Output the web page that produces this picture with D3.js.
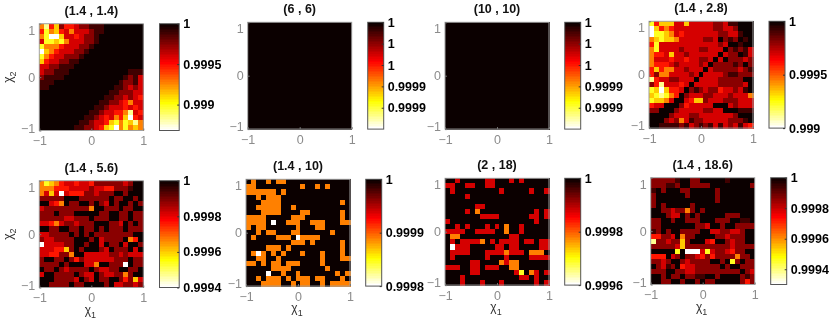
<!DOCTYPE html>
<html><head><meta charset="utf-8">
<script src="https://cdn.jsdelivr.net/npm/d3@7"></script>
<style>
html,body{margin:0;padding:0;background:#fff}
svg{display:block;filter:blur(0.3px)}
text{font-family:"Liberation Sans",Arial,sans-serif}
</style></head><body>
<svg id="c" width="830" height="320"></svg>
<script>
// Heat levels by row, top to bottom: 0 = colour-bar maximum ... 9 = colour-bar minimum
const panel1 = ["584624432211100000000","475643533321100000000","579963343221000000000","377675333221000000000","755543332210000000000","965433322100000000000","754332221000000000000","643322110000000000000","332211100000000000000","322111000000000000111","211110000000000001213","111000000000000012213","110000000000000112323","000000000000001122233","000000000000011223234","000000000000112234533","000000000001123334343","000000000011233445834","000000000112343546943","000000001123346757685","000000011223467957565"];
const panel2 = Array(21).fill("000000000000000000000");
const panel3 = Array(21).fill("000000000000000000000");
const panel4 = ["746663363333322311000","964543333333322332000","977653433333332233100","567665333332230212010","473333333333332300100","573333233322333021213","544363323333330322013","533343343322303022232","544432333323022221202","464553323330322222321","425533332303333211222","843322333033332222200","248333430333332222230","769644302123224332310","678754023332233323335","766530034662333222333","433000243333300032333","220002333332233000111","000023332233333332000","000232531223333322210","001111213212131323134"];
const panel5 = ["576543343342222223200","555444333323344222100","536393444223222002000","222220002222220220020","003450220020230200202","322222222250022202200","222022200000220022022","222223322202220022022","334532232220002230202","002200220220202220222","332222020202222222200","233222200020322220540","933332200200302203002","333446202000230222030","334422500333332232333","200220242333333222022","222202000335002229022","022023222202332200220","300222202330233225200","000222230230220024263","002222022000020332232"];
const panel6 = ["050050550000000000000","550000000005005050000","555555050000000000000","005055500000000000000","000555500000000000050","005555500500000000000","000555500005500000050","555500000555000000050","555509005550055500055","505500000050005500000","005055000550000005000","050000555095555000000","000000000555050000050","000055505000000000050","059505050005000500050","005500500000000500055","550505505550000500000","000005555000000050000","000090050050000000505","005055505055505500050","000555500505500505555"];
const panel7 = ["003000003300030300000","330033003300000000000","030000000003000003003","000030000000000000000","000000000000000000000","000000330000000000000","000030500000000000303","000000033330000003303","300000000000000000300","003030003030500300000","333300333300500300000","055000000000033000000","030333350303333033033","093330000033033000033","033330003333533305550","030000003000300003333","000003300005355000000","333003303330055000000","000003300000003705303","000300000000000330300","000300030003000000303"];
const panel8 = ["222221002200000100000","222112002222000000002","102000220000020000000","200000020000020000000","200000000000020000000","202000002000000000000","002232252020000000000","000233020200000222000","220020022200022200110","220000000223002002222","120200222200332233200","442230522000022322200","822322620003400232200","222223622222222232222","000007099937322342200","444032022342422225220","223200232222002072022","023120433222220200222","222002233222222222023","002022022110020000212","002200200202200000242"];

// Share of the colour-bar range below its maximum, for each heat level
const levelShares = [0,0.09,0.19,0.31,0.4,0.56,0.66,0.77,0.88,1];

const titles = ["(1.4 , 1.4)","(6 , 6)","(10 , 10)","(1.4 , 2.8)","(1.4 , 5.6)","(1.4 , 10)","(2 , 18)","(1.4 , 18.6)"];
const panels = [panel1,panel2,panel3,panel4,panel5,panel6,panel7,panel8];
const colourMins = [0.99868,0.9999,0.9999,0.999,0.9994,0.9998,0.9996,0.99930];
const colourTicks = [[1,0.9995,0.999],[1,0.99998,0.99996,0.99994,0.99992],[1,0.99998,0.99996,0.99994,0.99992],[1,0.9995,0.999],[1,0.9998,0.9996,0.9994],[1,0.9999,0.9998],[1,0.9998,0.9996],[1,0.9998,0.9996,0.9994]];
const axisTicks = [-1,0,1];

// Layout: plot left, top, colour-bar left, colour-bar width
const plotLeft = [39.3,247.7,445,649,39.3,246,445,650.7];
const plotTop  = [23.7,22.3,22.3,21.3,180.7,179.3,178.3,177.7];
const barLeft  = [159.5,367.7,564.7,769,159.5,365.7,564.7,770.7];
const barWidth = [19.7,16,16,16,19.7,16,16,16];
const plotW = 104, plotH = 106.8;

// MATLAB-style reversed "hot" map with 64 steps: t = 0 darkest, t = 1 white
const hot = t => {
  const k = Math.min(63,Math.floor(t*64)) + 1;
  const c = v => Math.round(255*Math.max(0,Math.min(1,v)));
  return `rgb(${c(k/24)},${c((k-24)/24)},${c((k-48)/16)})`;
};
const tickFmt = d3.format(".4~g");
const minusFmt = d => d < 0 ? "\u2212" + Math.abs(d) : String(d);
const svg = d3.select("#c");
const GREY = "#8c8c8c";

panels.forEach((rows,i) => {
  const g = svg.append("g").attr("transform",`translate(${plotLeft[i]},${plotTop[i]})`);
  const vmin = colourMins[i];
  const levelValue = lv => 1 - (1-vmin)*levelShares[lv];
  const colourT = d3.scaleLinear().domain([1,vmin]).range([0,1]);
  const xb = d3.scaleBand().domain(d3.range(21)).range([0,plotW]);
  const yb = d3.scaleBand().domain(d3.range(21)).range([0,plotH]);
  const x = d3.scaleLinear().domain([-1,1]).range([0,plotW]);
  const y = d3.scaleLinear().domain([-1,1]).range([plotH,0]);

  const cells = rows.flatMap((r,ri) => Array.from(r).map((ch,ci) => ({ri,ci,v:levelValue(+ch)})));
  g.append("g").attr("shape-rendering","crispEdges").selectAll("rect").data(cells).join("rect")
    .attr("x",d=>xb(d.ci)).attr("y",d=>yb(d.ri))
    .attr("width",xb.bandwidth()+0.5).attr("height",yb.bandwidth()+0.5)
    .attr("fill",d=>hot(colourT(d.v)));
  g.append("rect").attr("width",plotW).attr("height",plotH).attr("fill","none").attr("stroke","#a0a0a0");

  const ax = g.append("g").attr("transform",`translate(0,${plotH})`)
    .call(d3.axisBottom(x).tickValues(axisTicks).tickFormat(minusFmt).tickSize(-2).tickPadding(6));
  const ay = g.append("g")
    .call(d3.axisLeft(y).tickValues(axisTicks).tickFormat(minusFmt).tickSize(-2).tickPadding(4));
  [ax,ay].forEach(a => {
    a.select(".domain").remove();
    a.selectAll("line").attr("stroke","#777");
    a.selectAll("text").attr("fill",GREY).style("font-size","12.5px").style("font-family",'"Liberation Sans"');
  });
  ay.selectAll("text").attr("dy",d=> d===1 ? "0.85em" : d===-1 ? "0.15em" : "0.32em");

  svg.append("text").attr("x",plotLeft[i]+plotW/2).attr("y",plotTop[i]-9)
    .attr("text-anchor","middle").attr("font-weight","bold").attr("font-size",12.5).attr("fill","#111").text(titles[i]);

  // colour bar
  const by = d3.scaleLinear().domain([vmin,1]).range([plotH,0]);
  const bar = svg.append("g").attr("transform",`translate(${barLeft[i]},${plotTop[i]})`);
  bar.append("g").attr("shape-rendering","crispEdges").selectAll("rect").data(d3.range(64)).join("rect")
    .attr("x",0).attr("width",barWidth[i])
    .attr("y",k=>by(1-(1-vmin)*k/64)).attr("height",plotH/64+0.6)
    .attr("fill",k=>hot((k+0.5)/64));
  bar.append("rect").attr("width",barWidth[i]).attr("height",plotH).attr("fill","none").attr("stroke","#555");
  const ba = bar.append("g").attr("transform",`translate(${barWidth[i]},0)`)
    .call(d3.axisRight(by).tickValues(colourTicks[i]).tickFormat(tickFmt).tickSize(-2).tickPadding(4));
  ba.select(".domain").remove();
  ba.selectAll("line").attr("stroke","#333");
  ba.selectAll("text").attr("fill","#000").attr("font-weight","bold")
    .style("font-size","12.5px").style("font-family",'"Liberation Sans"');

  // axis labels
  const chi = (parent,sub) => {
    parent.attr("font-family",'"DejaVu Serif"').attr("font-size",12).attr("fill","#333").attr("text-anchor","middle");
    parent.append("tspan").text("\u03c7");
    parent.append("tspan").attr("font-size",9).attr("dy",4).text(sub);
  };
  if (i >= 4) chi(svg.append("text").attr("x",plotLeft[i]+plotW/2-1).attr("y",plotTop[i]+plotH+26),"1");
  if (i === 0 || i === 4) {
    const t = svg.append("text").attr("transform",`translate(12,${plotTop[i]+plotH/2}) rotate(-90)`);
    chi(t,"2");
  }
});
</script>
</body></html>
